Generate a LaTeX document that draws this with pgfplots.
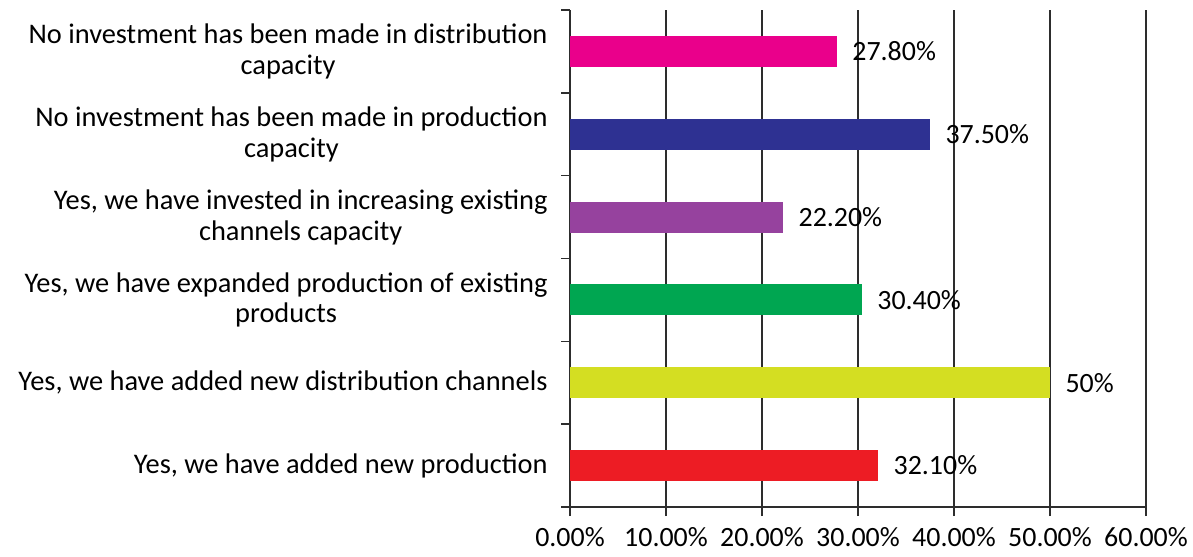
\documentclass[border=0pt]{standalone}
\usepackage{pgfplots}
\pgfplotsset{compat=1.18}
\usepackage{fontspec}
\setmainfont{Carlito}
\definecolor{cpink}{RGB}{234,0,139}
\definecolor{cblue}{RGB}{46,49,146}
\definecolor{cpurple}{RGB}{150,66,158}
\definecolor{cgreen}{RGB}{0,166,81}
\definecolor{cyellow}{RGB}{212,222,34}
\definecolor{cred}{RGB}{237,28,36}
\definecolor{axgray}{RGB}{45,45,45}
\begin{document}
\begin{tikzpicture}
\begin{axis}[
  at={(570bp,50bp)}, anchor=south west,
  scale only axis, width=576bp, height=497bp,
  xmin=0, xmax=60, ymin=0.5, ymax=6.5,
  axis x line*=bottom, axis y line*=left,
  xtick={0,10,...,60},
  xticklabels={0.00\%,10.00\%,20.00\%,30.00\%,40.00\%,50.00\%,60.00\%},
  ytick={1,...,6},
  yticklabels={{Yes, we have added new production},
               {Yes, we have added new distribution channels},
               {Yes, we have expanded production of existing\\products},
               {Yes, we have invested in increasing existing\\channels capacity},
               {No investment has been made in production\\capacity},
               {No investment has been made in distribution\\capacity}},
  xmajorgrids, grid style={axgray, line width=1.6bp},
  major tick length=0pt,
  minor xtick={0,10,...,60}, minor ytick={0.5,1.5,...,6.5},
  minor tick length=9bp, tick align=outside,
  axis line style={axgray, line width=1.6bp},
  minor tick style={axgray, line width=1.6bp},
  tick label style={font=\fontsize{28}{31}\selectfont, text=black},
  yticklabel style={align=center, xshift=-19bp, font=\fontsize{28.5}{31}\selectfont},
  xticklabel style={yshift=-17bp},
  xbar, bar width=31bp, bar shift=0pt,
  nodes near coords, point meta=explicit symbolic,
  nodes near coords style={font=\fontsize{28}{31}\selectfont, text=black, anchor=west, xshift=12bp},
]
\addplot[fill=cred, draw=none] coordinates {(32.1,1) [32.10\%]};
\addplot[fill=cyellow, draw=none] coordinates {(50,2) [50\%]};
\addplot[fill=cgreen, draw=none] coordinates {(30.4,3) [30.40\%]};
\addplot[fill=cpurple, draw=none] coordinates {(22.2,4) [22.20\%]};
\addplot[fill=cblue, draw=none] coordinates {(37.5,5) [37.50\%]};
\addplot[fill=cpink, draw=none] coordinates {(27.8,6) [27.80\%]};
\end{axis}
\pgfresetboundingbox
\path (0,0) rectangle (1193bp,557bp);
\end{tikzpicture}
\end{document}
